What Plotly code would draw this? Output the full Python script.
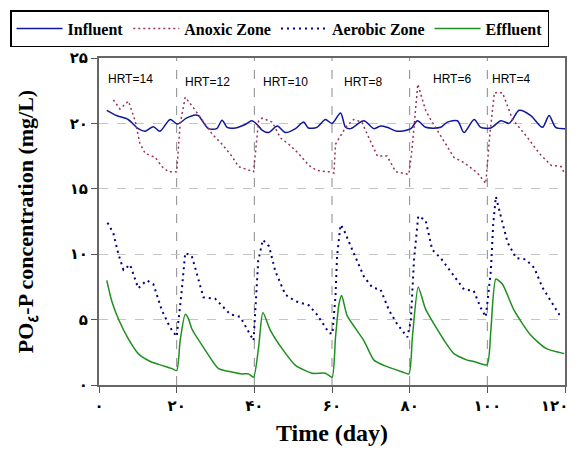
import plotly.graph_objects as go

# Influent
inf_day = [2.0, 4.5, 7.5, 10.1, 11.9, 14.0, 15.7, 18.3, 20.2, 22.5, 24.8, 25.6, 28.2, 30.3, 31.7, 33.0,
           35.1, 37.5, 39.4, 41.1, 41.9, 43.7, 45.9, 48.0, 50.6, 52.7, 53.9, 56.1, 58.3, 60.0, 62.2,
           63.5, 64.8, 68.2, 70.8, 72.5, 74.2, 76.8, 80.3, 82.0, 84.1, 88.0, 89.7, 92.3, 94.0, 96.6,
           98.3, 100.9, 103.5, 105.6, 106.5, 108.2, 111.2, 114.2, 115.9, 117.6, 120.0]
inf_val = [21.0, 20.6, 20.3, 19.6, 19.4, 19.75, 19.4, 20.3, 19.95, 20.4, 20.65, 20.6, 19.6, 19.6, 20.25, 19.7,
           19.65, 19.9, 20.2, 19.8, 19.5, 19.3, 19.8, 19.3, 19.6, 20.1, 19.65, 19.7, 20.3, 20.0, 20.8,
           19.7, 19.6, 20.2, 19.6, 19.8, 19.7, 19.4, 19.6, 20.2, 19.7, 19.7, 20.1, 20.2, 19.3, 20.3,
           19.7, 19.65, 20.2, 20.0, 20.3, 21.0, 20.6, 19.7, 20.6, 19.7, 19.6]

# Anoxic zone
anx_day = [3.7, 5.4, 7.6, 9.3, 10.5, 11.9, 14.5, 16.2, 17.9, 20.0, 20.9, 22.2, 24.3, 27.4, 29.1, 31.7,
           34.2, 35.9, 39.8, 41.1, 42.0, 44.6, 46.7, 48.9, 51.4, 54.0, 56.1, 59.1, 60.5, 60.9, 63.5,
           65.6, 67.7, 69.5, 71.7, 74.2, 76.4, 79.8, 80.6, 82.1, 84.1, 85.4, 88.4, 91.4, 94.0, 97.5,
           99.6, 100.6, 101.8, 103.9, 106.5, 110.4, 113.4, 116.4, 119.0, 120.0]
anx_val = [21.8, 21.1, 21.7, 20.2, 18.5, 17.7, 17.4, 16.7, 16.3, 16.3, 19.95, 22.0, 21.2, 19.95, 19.2, 18.4,
           17.5, 16.7, 16.3, 20.2, 20.4, 20.1, 18.9, 18.4, 17.7, 16.8, 16.4, 16.3, 16.2, 18.4, 19.7,
           20.3, 20.1, 18.9, 17.5, 17.5, 16.3, 16.1, 18.0, 23.0, 21.0, 20.3, 18.9, 17.4, 17.0, 16.2,
           15.4, 19.0, 22.35, 22.35, 20.3, 18.9, 17.7, 16.8, 16.7, 16.1]

# Aerobic zone
aer_day = [2.2, 3.7, 5.0, 6.3, 8.0, 10.1, 12.3, 14.0, 16.2, 18.3, 20.0, 21.2, 22.2, 23.9, 25.2, 26.9,
           29.9, 33.8, 36.4, 39.8, 41.0, 42.2, 43.8, 45.4, 48.0, 50.6, 54.0, 56.1, 59.2, 60.1, 60.9,
           61.3, 62.2, 63.0, 65.2, 68.2, 70.4, 72.5, 74.7, 76.8, 79.4, 80.3, 81.1, 82.2, 84.1, 85.8,
           88.0, 91.4, 94.0, 96.5, 98.3, 99.6, 100.9, 101.5, 102.2, 103.6, 105.2, 107.4, 109.9, 112.1,
           114.2, 116.4, 118.5, 119.5]
aer_val = [12.4, 11.6, 10.0, 8.8, 9.2, 7.4, 8.0, 7.7, 5.7, 4.4, 3.7, 6.9, 10.1, 9.85, 8.5, 6.7,
           6.6, 5.4, 5.2, 3.4, 9.5, 11.1, 10.6, 8.7, 6.9, 6.4, 6.1, 5.4, 4.0, 3.9, 6.8,
           9.85, 12.25, 11.9, 10.35, 8.3, 7.45, 7.3, 5.7, 4.65, 3.65, 4.9, 9.5, 12.9, 12.6, 10.35,
           9.7, 8.3, 7.3, 7.2, 5.9, 5.2, 8.7, 12.25, 14.4, 12.75, 10.9, 9.7, 9.6, 8.95,
           7.45, 6.4, 5.4, 5.2]

# Effluent
eff_day = [2.0, 3.3, 5.0, 7.6, 10.1, 13.2, 16.2, 18.8, 20.0, 20.9, 22.2, 23.0, 23.9, 27.4, 30.8, 34.2,
           36.8, 38.5, 39.8, 41.1, 42.2, 44.1, 47.1, 50.6, 54.9, 58.3, 60.0, 60.9, 61.8, 62.5, 63.9,
           68.2, 70.8, 73.4, 78.1, 79.8, 80.7, 82.2, 84.1, 88.9, 91.4, 94.8, 96.5, 99.9, 100.9, 102.2,
           103.9, 106.9, 111.2, 115.1, 119.8]
eff_val = [8.0, 6.4, 5.05, 3.5, 2.4, 1.8, 1.5, 1.25, 1.1, 3.4, 5.4, 5.1, 4.3, 2.65, 1.25, 1.0,
           0.85, 0.85, 0.6, 2.9, 5.55, 4.2, 2.8, 1.5, 0.9, 0.9, 0.6, 3.65, 6.2, 6.85, 5.3,
           3.4, 1.9, 1.5, 1.0, 0.85, 3.65, 7.5, 5.8, 3.4, 2.4, 1.9, 1.8, 1.55, 4.15, 8.1,
           7.7, 5.7, 3.8, 2.8, 2.4]

hrt_labels = ["HRT=14", "HRT=12", "HRT=10", "HRT=8", "HRT=6", "HRT=4"]
hrt_x = [8.0, 28.0, 48.0, 68.0, 91.0, 106.0]
hrt_y = [23.4, 23.2, 23.2, 23.2, 23.4, 23.4]

x_ticks = [0, 20, 40, 60, 80, 100, 120]
x_ticktext = ["۰", "۲۰", "۴۰", "۶۰", "۸۰", "۱۰۰", "۱۲۰\u00a0\u00a0\u00a0\u00a0"]  # nbsp keeps last label inside
y_ticks = [0, 5, 10, 15, 20, 25]
y_ticktext = ["۰", "۵", "۱۰", "۱۵", "۲۰", "۲۵"]

serif = "Times New Roman, Liberation Serif, serif"
digits = "DejaVu Sans, sans-serif"

fig = go.Figure()
fig.add_trace(go.Scatter(x=inf_day, y=inf_val, name="<b>Influent</b>", mode="lines",
                         line=dict(color="#10189a", width=1.5, shape="spline", smoothing=0.8)))
fig.add_trace(go.Scatter(x=anx_day, y=anx_val, name="<b>Anoxic Zone</b>", mode="lines",
                         line=dict(color="#99305f", width=1.5, dash="2px,3px")))
fig.add_trace(go.Scatter(x=aer_day, y=aer_val, name="<b>Aerobic Zone</b>", mode="lines",
                         line=dict(color="#000080", width=2, dash="2px,4px")))
fig.add_trace(go.Scatter(x=eff_day, y=eff_val, name="<b>Effluent</b>", mode="lines",
                         line=dict(color="#1f8f1f", width=1.5, shape="spline", smoothing=0.6)))

for t, x, y in zip(hrt_labels, hrt_x, hrt_y):
    fig.add_annotation(x=x, y=y, text=t, showarrow=False,
                       font=dict(family="Liberation Sans Narrow, Arial Narrow, Liberation Sans",
                                 size=12, color="black"))

# vertical period separators
for x in x_ticks[1:-1]:
    fig.add_shape(type="line", x0=x, x1=x, y0=0, y1=25, xref="x", yref="y",
                  line=dict(color="#8a8a8a", width=1, dash="dash"), layer="below")

fig.update_xaxes(range=[0, 120], tickvals=x_ticks, ticktext=["<b>" + t + "</b>" for t in x_ticktext],
                 ticks="outside", ticklen=6, tickcolor="#555", showgrid=False,
                 ticklabeloverflow="allow",
                 showline=True, linecolor="#666", linewidth=2, mirror=True, zeroline=False,
                 tickfont=dict(family=digits, size=15, color="black"),
                 title=dict(text="<b>Time (day)</b>", font=dict(family=serif, size=24, color="black"),
                            standoff=10))
fig.update_yaxes(range=[0, 25], tickvals=y_ticks, ticktext=["<b>" + t + "</b>" for t in y_ticktext],
                 ticks="outside", ticklen=6, tickcolor="#555",
                 showgrid=True, gridcolor="#c4c4c4", griddash="dash", gridwidth=1,
                 showline=True, linecolor="#666", linewidth=2, mirror=True, zeroline=False,
                 tickfont=dict(family=digits, size=15, color="black"),
                 title=dict(text="<b>PO<sub>٤</sub>-P concentration (mg/L)</b>",
                            font=dict(family=serif, size=22, color="black"), standoff=30))

# page body adds an 8px margin; figure sized so the page does not scroll
fig.update_layout(
    width=564, height=438,
    margin=dict(l=91, r=7, t=50, b=61, autoexpand=False),
    plot_bgcolor="white", paper_bgcolor="white",
    showlegend=True,
    legend=dict(orientation="h", xref="paper", yref="paper",
                x=(2 - 91) / 466, y=1 + 48 / 327, xanchor="left", yanchor="top",
                bordercolor="black", borderwidth=1.5, bgcolor="white",
                font=dict(family=serif, size=16, color="black"), itemwidth=46),
)

fig.write_html("out.html")
